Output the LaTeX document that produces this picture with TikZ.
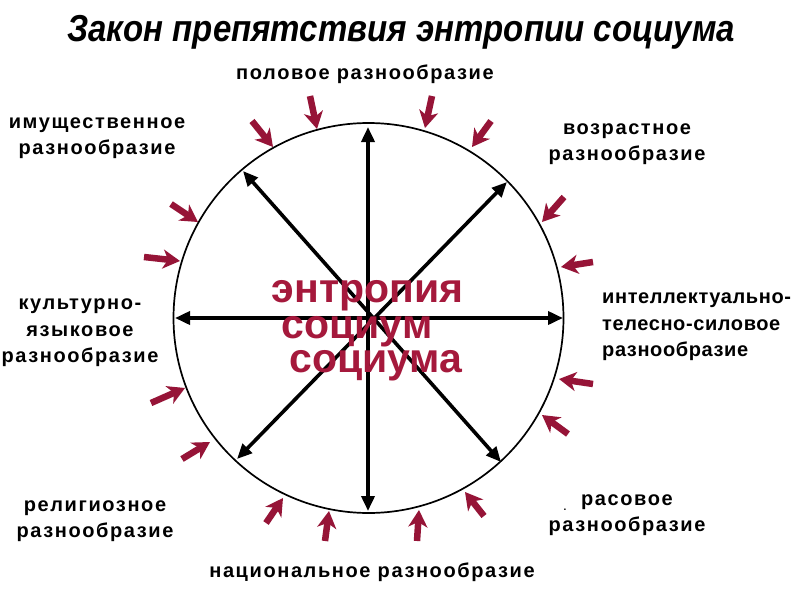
\documentclass[tikz,border=0pt]{standalone}
\usepackage{fontspec}
\setmainfont{Liberation Sans}
\newfontfamily\titlefont[FakeStretch=0.88]{Liberation Sans}
\newfontfamily\labelfont[LetterSpace=8]{Liberation Sans}
\newfontfamily\labelfonttight[LetterSpace=3]{Liberation Sans}
\usetikzlibrary{arrows.meta}
\definecolor{arrred}{RGB}{150,20,55}
\definecolor{txtred}{RGB}{165,25,60}
\tikzset{
  bigarrow/.style={line width=3.6pt, black, {Triangle[length=15pt,width=13pt]}-{Triangle[length=15pt,width=13pt]}},
  smallarrow/.style={line width=6.5pt, arrred, -{Stealth[length=17pt,width=19pt,inset=5pt]}},
  lbl/.style={font=\labelfont\bfseries\fontsize{20}{26.5}\selectfont, align=center, inner sep=0pt},
  centertxt/.style={font=\bfseries\fontsize{41}{41}\selectfont, text=txtred, inner sep=0pt, anchor=base},
}
\begin{document}
\begin{tikzpicture}[x=1pt,y=-1pt]
\useasboundingbox (0,0) rectangle (800,600);
\fill[white] (0,0) rectangle (800,600);
% title
\node[font=\titlefont\bfseries\itshape\fontsize{37.5}{40}\selectfont, inner sep=0pt, anchor=base] (title) at (401,41) {Закон препятствия энтропии социума};
% circle
\node[circle, draw, line width=1.7pt, minimum size=390pt, inner sep=0pt] (C) at (368.5,318) {};
% big arrow endpoints
\coordinate (N) at (368,127);
\coordinate (S) at (368,511);
\coordinate (W) at (175,318);
\coordinate (E) at (563,318);
\coordinate (NW) at (243,171);
\coordinate (SE) at (501,462);
\coordinate (NE) at (507,182);
\coordinate (SW) at (237,459);
\draw[bigarrow] (N) -- (S);
\draw[bigarrow] (W) -- (E);
\draw[bigarrow] (NW) -- (SE);
\draw[bigarrow] (NE) -- (SW);
% center text (drawn over the arrows)
\node[centertxt] (t1) at (367.5,302) {энтропия};
\node[centertxt] (t2) at (357,338) {социум};
\node[centertxt] (t3) at (376,372) {социума};
% small red arrows
\foreach \tx/\ty/\hx/\hy [count=\i] in {
  252/121/273/147, 310/96/317/129, 432/96/425/128, 491/121/472/147,
  564/197/542/222, 593/262/561/267, 593/384/559/379, 568/434/542/415,
  266/523/283/498, 325/541/329/511, 417/541/419/510, 484/516/465/492,
  171/204/198/222, 144/257/180/261, 151/403/185/388, 182/459/210/442}{
  \coordinate (a\i) at (\tx,\ty);
  \coordinate (b\i) at (\hx,\hy);
  \draw[smallarrow] (a\i) -- (b\i);
}
% labels
\node[lbl] (l1) at (365,74) {половое разнообразие};
\node[lbl] (l2) at (97,138) {имущественное\\разнообразие};
\node[lbl] (l3) at (627,144) {возрастное\\разнообразие};
\node[lbl] (l4) at (80,333) {культурно-\\языковое\\разнообразие};
\node[lbl, font=\labelfonttight\bfseries\fontsize{20}{26.5}\selectfont, align=left, anchor=west] (l5) at (602,327) {интеллектуально-\\телесно-силовое\\разнообразие};
\node[lbl] (l6) at (95,521) {религиозное\\разнообразие};
\node[lbl] (l7) at (372,572) {национальное разнообразие};
\node[lbl] (l8) at (627,515) {расовое\\разнообразие};
\node[font=\bfseries\fontsize{10}{12}\selectfont, inner sep=0pt] (dot) at (565,510) {.};
\end{tikzpicture}
\end{document}
